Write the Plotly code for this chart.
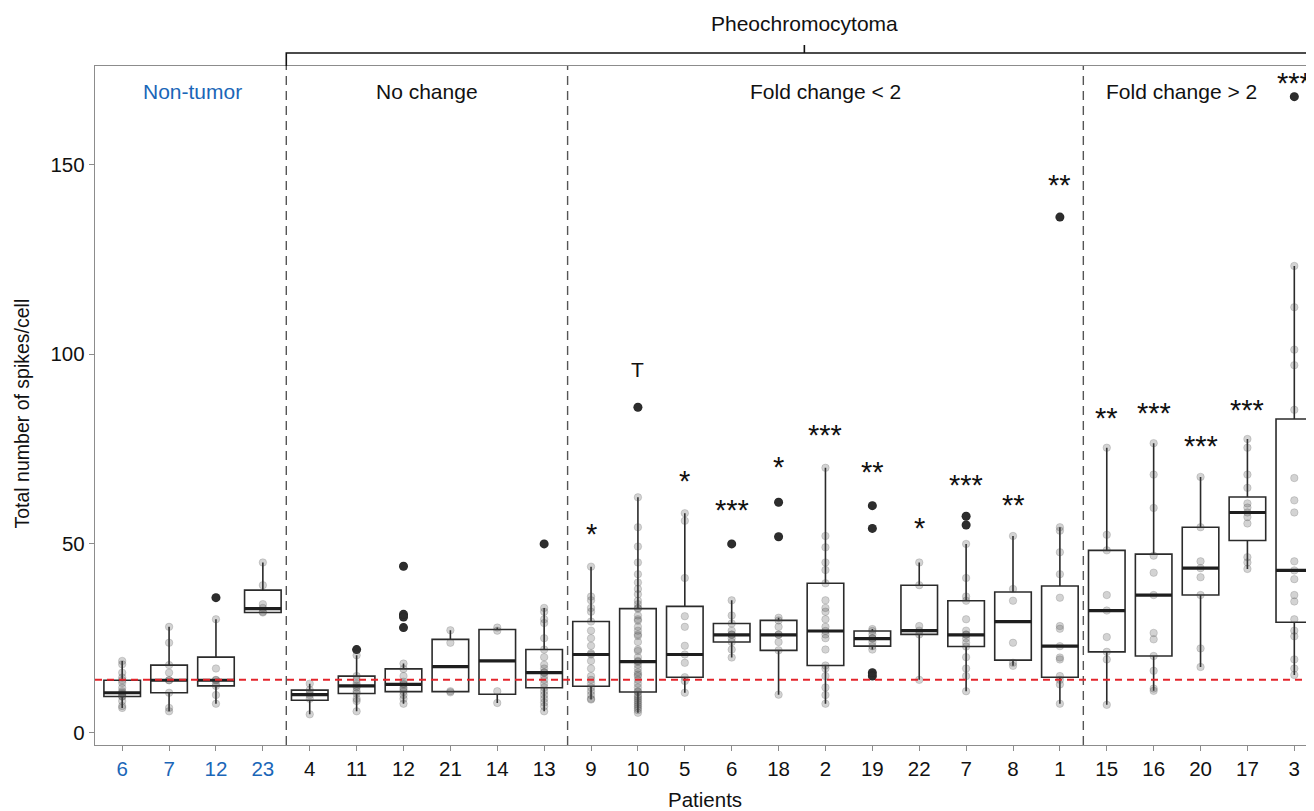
import plotly.graph_objects as go
import numpy as np

# ---------------- data ----------------
patients = ["6", "7", "12", "23",
            "4", "11", "12", "21", "14", "13",
            "9", "10", "5", "6", "18", "2", "19", "22", "7", "8", "1",
            "15", "16", "20", "17", "3"]
n_nontumor = 4

# box statistics (Q1, median, Q3, whisker ends)
q1 = [9.6, 10.6, 12.4, 31.8,
      8.6, 10.4, 10.9, 10.9, 10.2, 11.9,
      12.3, 10.8, 14.7, 24.0, 21.8, 17.8, 22.9, 26.0, 22.8, 19.2, 14.7,
      21.4, 20.3, 36.4, 50.8, 29.2]
median = [10.6, 13.9, 13.9, 32.8,
          10.1, 12.4, 12.8, 17.5, 19.0, 15.9,
          20.7, 18.8, 20.7, 25.9, 25.9, 26.9, 24.9, 27.0, 25.9, 29.4, 22.9,
          32.3, 36.4, 43.5, 58.2, 42.9]
q3 = [13.9, 17.9, 20.0, 37.7,
      11.3, 15.0, 16.9, 24.7, 27.3, 22.0,
      29.4, 32.8, 33.4, 28.9, 29.7, 39.5, 26.9, 39.0, 34.9, 37.2, 38.8,
      48.2, 47.2, 54.3, 62.3, 82.9]
whisker_lo = [6.6, 5.7, 7.7, 31.8,
              4.9, 5.7, 7.7, 10.7, 7.9, 5.7,
              8.8, 5.3, 10.6, 19.9, 10.1, 7.7, 22.0, 14.0, 11.0, 17.7, 7.7,
              7.4, 11.1, 17.4, 43.3, 15.3]
whisker_hi = [19.0, 28.0, 30.0, 45.0,
              13.0, 20.5, 18.3, 27.1, 27.8, 33.0,
              43.9, 62.2, 58.0, 35.0, 30.4, 70.0, 27.4, 45.0, 49.9, 52.0, 54.3,
              75.3, 76.5, 67.6, 77.6, 123.3]

# individual cells per patient, by group
obs_nontumor = [
    [19.0, 18.1, 15.9, 14.6, 13.9, 13.2, 11.9, 11.0, 10.6, 10.2, 9.7, 9.6, 8.4, 7.1, 6.6],
    [28.0, 23.8, 17.9, 15.9, 13.9, 13.9, 10.6, 6.6, 5.7],
    [35.7, 30.0, 17.0, 14.0, 13.9, 13.0, 12.4, 10.0, 7.7],
    [45.0, 39.0, 34.0, 33.0, 32.0, 31.8],
]
obs_nochange = [
    [13.0, 11.3, 10.5, 10.0, 9.0, 4.9],
    [22.0, 20.5, 15.0, 14.0, 13.0, 12.4, 12.0, 11.0, 10.4, 9.0, 8.4, 5.7],
    [44.0, 31.3, 30.6, 27.8, 18.3, 16.9, 15.0, 13.5, 13.0, 12.8, 12.0, 11.5, 10.9, 10.0, 9.0, 7.7],
    [27.1, 23.8, 11.0, 10.7],
    [27.8, 27.0, 11.0, 7.9],
    [49.9, 33.0, 32.0, 30.0, 29.0, 25.0, 22.0, 20.0, 18.0, 17.0, 16.0, 15.9, 15.0, 14.0,
     13.0, 12.0, 11.0, 10.0, 9.0, 8.0, 7.0, 5.7],
]
obs_fc_lt2 = [
    [43.9, 36.0, 35.0, 33.0, 32.0, 29.4, 27.0, 25.0, 23.0, 21.0, 20.7, 19.0, 17.0, 15.0,
     14.0, 13.0, 12.0, 11.0, 10.0, 9.0, 8.8],
    [86.0, 62.2, 54.3, 49.2, 45.0, 41.9, 39.7, 38.0, 36.6, 34.9, 34.0, 33.0, 32.8, 31.0,
     30.0, 29.6, 28.0, 27.0, 26.0, 25.6, 24.0, 22.0, 21.6, 20.0, 19.0, 18.8, 18.0, 17.0,
     16.0, 15.4, 15.0, 14.0, 13.0, 12.0, 11.0, 10.8, 10.0, 9.5, 9.0, 8.5, 8.0, 7.5, 7.0,
     6.5, 6.0, 5.3],
    [58.0, 56.0, 40.9, 30.8, 28.0, 23.0, 20.7, 18.5, 14.7, 13.7, 10.6],
    [49.9, 35.0, 31.0, 28.9, 27.0, 26.0, 25.9, 25.0, 24.0, 22.0, 19.9],
    [60.9, 51.8, 30.4, 29.7, 28.0, 26.0, 25.9, 24.0, 21.8, 10.1],
    [70.0, 52.0, 49.0, 45.0, 43.0, 39.5, 35.0, 33.0, 32.0, 30.0, 28.0, 26.9, 26.0, 25.0,
     22.0, 17.8, 17.0, 15.0, 12.0, 10.0, 7.7],
    [60.0, 54.0, 27.4, 26.9, 26.0, 25.0, 24.9, 24.0, 22.9, 22.0, 15.9, 15.0],
    [45.0, 39.0, 28.2, 27.0, 26.0, 14.0],
    [57.2, 54.9, 49.9, 40.9, 36.0, 34.9, 30.0, 27.0, 26.0, 25.9, 25.0, 23.8, 22.8, 20.0,
     17.0, 15.0, 11.0],
    [52.0, 38.0, 34.9, 23.8, 18.5, 17.7],
    [136.2, 54.3, 53.4, 47.7, 41.9, 35.7, 28.2, 27.5, 22.9, 19.9, 19.4, 15.0, 14.0, 12.8, 7.7],
]
obs_fc_gt2 = [
    [75.3, 52.3, 48.2, 36.4, 32.3, 25.3, 21.4, 19.4, 7.4],
    [76.5, 68.2, 59.4, 46.8, 42.3, 36.4, 26.4, 24.7, 20.3, 16.4, 11.7, 11.1],
    [67.6, 54.3, 45.3, 43.5, 41.1, 36.4, 22.3, 17.4],
    [77.6, 75.3, 68.2, 64.7, 60.6, 59.5, 58.2, 57.0, 55.3, 46.4, 45.0, 43.3],
    [168.0, 123.3, 112.4, 101.2, 97.1, 85.3, 67.3, 61.4, 58.2, 45.3, 42.9, 40.6, 36.4,
     34.7, 30.0, 27.0, 25.5, 19.4, 17.0, 15.3],
]

threshold = 14.0

group_names = ["Non-tumor", "No change", "Fold change < 2", "Fold change > 2"]
group_label_x = [1.5, 6.5, 15.0, 22.6]
group_label_y = 169.3
group_bounds = [3.5, 9.5, 20.5]

sig_index = [10, 11, 12, 13, 14, 15, 16, 17, 18, 19, 20, 21, 22, 23, 24, 25]
sig_text = ["*", "T", "*", "***", "*", "***", "**", "*", "***", "**", "**",
            "**", "***", "***", "***", "***"]
sig_y = [54.6, 96.0, 68.6, 61.1, 72.3, 80.9, 71.0, 56.3, 67.7, 62.4, 146.9,
         85.3, 86.5, 77.9, 87.3, 173.6]

# ---------------- figure ----------------
observations = obs_nontumor + obs_nochange + obs_fc_lt2 + obs_fc_gt2
xpos = list(range(len(patients)))
box_w = 0.78
XMIN, XMAX = -0.58, 25.42
YMIN, YMAX = -3.2, 176.1

fig = go.Figure()

fig.add_trace(go.Box(
    x=xpos, q1=q1, median=median, q3=q3,
    lowerfence=whisker_lo, upperfence=whisker_hi,
    width=box_w, whiskerwidth=0, boxpoints=False,
    fillcolor="rgba(255,255,255,0)",
    line=dict(color="#2b2b2b", width=1.6),
    hoverinfo="skip", showlegend=False,
))

# outliers (solid black) and all cells (translucent gray)
ox, oy, px_, py_ = [], [], [], []
for i, vals in enumerate(observations):
    for v in vals:
        px_.append(i)
        py_.append(v)
        if v > whisker_hi[i] + 1e-9 or v < whisker_lo[i] - 1e-9:
            ox.append(i)
            oy.append(v)

fig.add_trace(go.Scatter(
    x=ox, y=oy, mode="markers",
    marker=dict(size=9, color="rgba(25,25,25,0.95)", line=dict(width=0)),
    hoverinfo="skip", showlegend=False, cliponaxis=True,
))
fig.add_trace(go.Scatter(
    x=px_, y=py_, mode="markers",
    marker=dict(size=7.5, color="rgba(70,70,70,0.24)",
                line=dict(width=0.8, color="rgba(60,60,60,0.22)")),
    hoverinfo="skip", showlegend=False, cliponaxis=True,
))

shapes = []
# thick median bars
for i, m in enumerate(median):
    shapes.append(dict(type="line", xref="x", yref="y",
                       x0=i - box_w / 2, x1=i + box_w / 2, y0=m, y1=m,
                       line=dict(color="#1e1e1e", width=3.2), layer="above"))
# group separators
for b in group_bounds:
    shapes.append(dict(type="line", xref="x", yref="paper", x0=b, x1=b, y0=0, y1=1,
                       line=dict(color="#555555", width=1.4, dash="9px,6px"),
                       layer="below"))
# threshold line
shapes.append(dict(type="line", xref="paper", yref="y", x0=0, x1=1,
                   y0=threshold, y1=threshold,
                   line=dict(color="#e3242b", width=2, dash="7px,5px"), layer="above"))


def to_paper(xv):
    return (xv - XMIN) / (XMAX - XMIN)


# Pheochromocytoma bracket
br_left = group_bounds[0]
br_right = 25.6
br_center = (br_left + br_right) / 2
yb, ynotch = 1.0191, 1.031
shapes.append(dict(type="path", xref="paper", yref="paper",
                   path=f"M {to_paper(br_left)},1.0 L {to_paper(br_left)},{yb} "
                        f"L {to_paper(br_right)},{yb} "
                        f"M {to_paper(br_center)},{yb} L {to_paper(br_center)},{ynotch}",
                   line=dict(color="#111111", width=1.6)))

annotations = []
annotations.append(dict(text="Pheochromocytoma", xref="paper", yref="paper",
                        x=to_paper(br_center), y=1.0633, showarrow=False,
                        xanchor="center", yanchor="middle",
                        font=dict(size=21, color="#111111")))
for name, gx in zip(group_names, group_label_x):
    annotations.append(dict(text=name, xref="x", yref="y", x=gx, y=group_label_y,
                            showarrow=False, xanchor="center", yanchor="middle",
                            font=dict(size=21, color="#1a66b8" if name == "Non-tumor" else "#111111")))
for idx, t, yv in zip(sig_index, sig_text, sig_y):
    fs = 21 if t == "T" else 29
    annotations.append(dict(text=t, xref="x", yref="y", x=idx, y=yv, showarrow=False,
                            xanchor="center", yanchor="middle",
                            yshift=(0 if t == "T" else -8),
                            font=dict(size=fs, color="#111111")))
# axis titles
annotations.append(dict(text="Patients", xref="paper", yref="paper", x=0.5, y=-0.081,
                        showarrow=False, xanchor="center", yanchor="middle",
                        font=dict(size=20.5, color="#111111")))
annotations.append(dict(text="Total number of spikes/cell", xref="paper", yref="paper",
                        x=-0.06, y=0.488, textangle=-90, showarrow=False,
                        xanchor="center", yanchor="middle",
                        font=dict(size=19.5, color="#111111")))

ticktext = [f'<span style="color:#1a66b8">{p}</span>' if i < n_nontumor else p
            for i, p in enumerate(patients)]

# the page adds an 8px body margin; size the figure so the panel lands where the reference has it
fig.update_layout(
    width=1306, height=803,
    margin=dict(l=87, r=0, t=58, b=66, autoexpand=False),
    plot_bgcolor="white", paper_bgcolor="white",
    font=dict(family="Liberation Sans, Arial, sans-serif", size=19, color="#111111"),
    showlegend=False,
    shapes=shapes, annotations=annotations,
    xaxis=dict(range=[XMIN, XMAX], tickmode="array", tickvals=xpos, ticktext=ticktext,
               showline=True, linecolor="#8c8c8c", linewidth=1.4, mirror=True,
               ticks="outside", ticklen=5, tickcolor="#8c8c8c", tickwidth=1.4,
               showgrid=False, zeroline=False, automargin=False,
               tickfont=dict(size=20.5, color="#111111")),
    yaxis=dict(range=[YMIN, YMAX], tickmode="array", tickvals=[0, 50, 100, 150],
               showline=True, linecolor="#8c8c8c", linewidth=1.4,
               ticks="outside", ticklen=5, tickcolor="#8c8c8c", tickwidth=1.4,
               showgrid=False, zeroline=False, automargin=False,
               tickfont=dict(size=20.5, color="#111111")),
)

fig.write_html("out.html")
